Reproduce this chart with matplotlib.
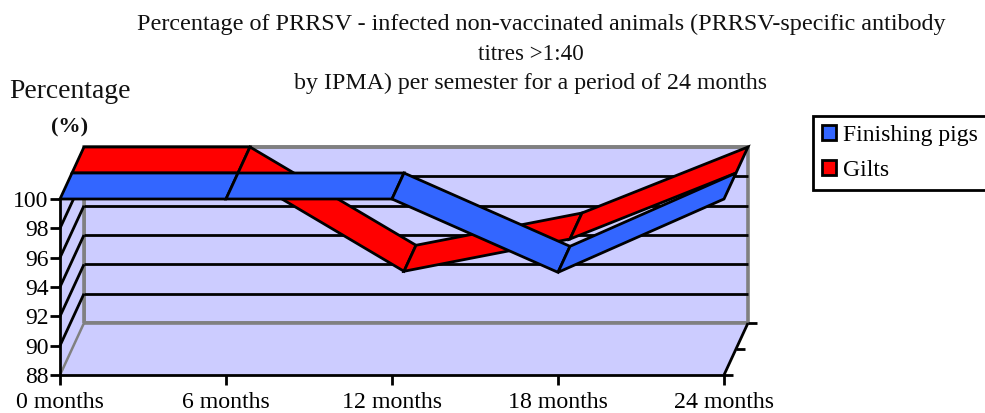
import matplotlib
matplotlib.use('Agg')
import matplotlib.pyplot as plt
from matplotlib.patches import Polygon, Patch

plt.rcParams['font.family'] = ['Liberation Serif', 'DejaVu Serif']

# Data
months = ['0 months', '6 months', '12 months', '18 months', '24 months']
finishing = [100, 100, 100, 95, 100]
gilts = [100, 100, 93.3, 95.5, 100]
yticks = [88, 90, 92, 94, 96, 98, 100]
series_names = ['Finishing pigs', 'Gilts']

BLUE = '#3366FF'
RED = '#FF0000'
WALL = '#CCCCFF'
GREY = '#808080'
LW = 2.0

W, H = 985, 413
fig = plt.figure(figsize=(W / 100, H / 100), dpi=100, facecolor='white')
# front plane of the fake 3d box, in pixels
ax = fig.add_axes([60 / W, (H - 375) / H, 664 / W, 176 / H])
ax.set_xlim(0, len(months) - 1)
ax.set_ylim(88, 100)

# depth offset of the box in data units
ddx = 24 / 166
ddy = 52 / (176 / 12)


def proj(i, v, d):
    return (i + d * ddx, v + d * ddy)


def poly(pts, fc, ec='black', lw=LW, z=2):
    ax.add_patch(Polygon(pts, closed=True, facecolor=fc, edgecolor=ec,
                         linewidth=lw, joinstyle='miter', clip_on=False, zorder=z))


def line(a, b, c='black', lw=LW, z=2):
    ax.plot([a[0], b[0]], [a[1], b[1]], color=c, lw=lw, clip_on=False,
            solid_capstyle='butt', zorder=z)


n = len(months) - 1
# walls and floor
poly([proj(0, 88, 1), proj(n, 88, 1), proj(n, 100, 1), proj(0, 100, 1)], WALL, GREY, 2.6, 1)
poly([proj(0, 88, 0), proj(0, 88, 1), proj(0, 100, 1), proj(0, 100, 0)], WALL, 'none', 0, 1)
poly([proj(0, 88, 0), proj(n, 88, 0), proj(n, 88, 1), proj(0, 88, 1)], WALL, 'none', 0, 1)
line(proj(0, 88, 0), proj(0, 88, 1), GREY, 1.8, 1.5)
line(proj(0, 88, 1), proj(n, 88, 1), GREY, 2.6, 1.5)
line(proj(0, 88, 1), proj(0, 100, 1), GREY, 2.6, 1.5)

# gridlines on back and side wall
for v in yticks[1:-1]:
    line(proj(0, v, 1), proj(n, v, 1))
    line(proj(0, v, 0), proj(0, v, 1))
line(proj(0, 100, 1), proj(n, 100, 1), GREY, 2.6, 1.5)

# right edge of floor with its ticks
line(proj(n, 88, 0), proj(n, 88, 1))
for d in [0, 0.5, 1]:
    a = proj(n, 88, d)
    line(a, (a[0] + 9 / 166, a[1]))

# ribbons, back series first
for vals, col, d0, d1 in [(gilts, RED, 0.5, 1), (finishing, BLUE, 0, 0.5)]:
    for i in range(n):
        poly([proj(i, vals[i], d0), proj(i + 1, vals[i + 1], d0),
              proj(i + 1, vals[i + 1], d1), proj(i, vals[i], d1)], col, z=3)

# axes
for s in ['top', 'right']:
    ax.spines[s].set_visible(False)
for s in ['left', 'bottom']:
    ax.spines[s].set_linewidth(LW)
    ax.spines[s].set_zorder(2.5)
ax.patch.set_visible(False)
ax.set_xticks(range(len(months)))
ax.set_xticklabels(months, fontsize=17.2)
ax.set_yticks(yticks)
ax.set_yticklabels([str(v) for v in yticks], fontsize=17)
ax.tick_params(axis='both', length=7.2, width=LW, color='black', pad=1)
ax.tick_params(axis='x', pad=5)

# title lines
fig.text(541.5 / W, 1 - 24 / H,
         'Percentage of PRRSV - infected non-vaccinated animals (PRRSV-specific antibody',
         ha='center', va='center', fontsize=17.4, color='#111111')
fig.text(531 / W, 1 - 54.5 / H, 'titres >1:40', ha='center', va='center', fontsize=16.6, color='#111111')
fig.text(531 / W, 1 - 83 / H, 'by IPMA) per semester for a period of 24 months',
         ha='center', va='center', fontsize=17.2, color='#111111')

fig.text(69.5 / W, 1 - 92 / H, 'Percentage', ha='center', va='center', fontsize=19.9, color='#111111')
fig.text(70 / W, 1 - 127 / H, '(%)', ha='center', va='center', fontsize=16, fontweight='bold', color='#111111')

# legend
handles = [Patch(facecolor=BLUE, edgecolor='black', linewidth=LW),
           Patch(facecolor=RED, edgecolor='black', linewidth=LW)]
leg = fig.legend(handles, series_names, loc='upper left',
                 bbox_to_anchor=(813 / W, 1 - 116 / H, 176 / W, 0), bbox_transform=fig.transFigure,
                 mode='expand', fontsize=17, fancybox=False, framealpha=1, edgecolor='black',
                 handlelength=0.62, handleheight=0.62, handletextpad=0.28,
                 labelspacing=0.62, borderpad=0.36, borderaxespad=0)
leg.get_frame().set_linewidth(LW)

fig.savefig('out.png', dpi=100)
